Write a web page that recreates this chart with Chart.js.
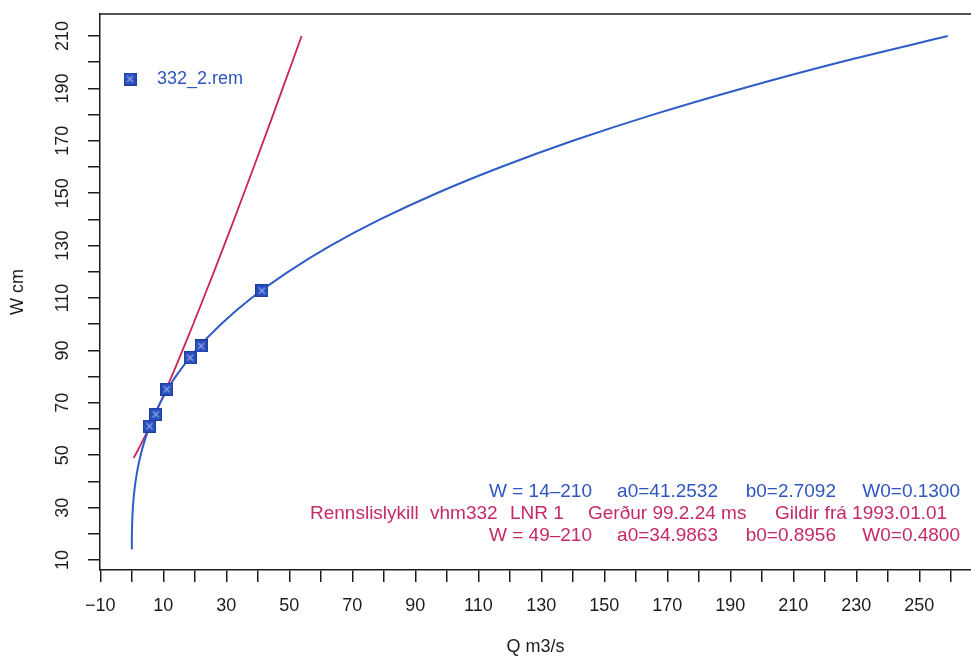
<!DOCTYPE html>
<html>
<head>
<meta charset="utf-8">
<script src="https://cdn.jsdelivr.net/npm/chart.js@4.4.1/dist/chart.umd.min.js"></script>
<style>
  html, body { margin: 0; padding: 0; background: #fff; }
  #wrap { width: 971px; height: 658px; position: relative; }
</style>
</head>
<body>
<div id="wrap"><canvas id="chart"></canvas></div>
<script>
// rating curve 332_2.rem (blue), W cm vs Q m3/s
const blueW = [14, 16, 18, 20, 25, 30, 35, 40, 45, 50, 55, 60, 65, 70, 75, 80, 90, 100, 110, 120, 130, 140, 150, 160, 170, 180, 190, 200, 210];
const blueQ = [0.0, 0.003, 0.012, 0.03, 0.13, 0.34, 0.68, 1.19, 1.88, 2.79, 3.93, 5.33, 7.02, 9.0, 11.3, 13.9, 20.3, 28.3, 38.0, 49.6, 63.1, 78.8, 96.8, 117.2, 140.0, 165.5, 193.8, 224.8, 259.0];

// older key vhm332 LNR 1 (red)
const redW = [49, 50, 52, 55, 60, 70, 80, 90, 100, 120, 140, 160, 180, 200, 210];
const redQ = [0.57, 1.05, 1.96, 3.23, 5.24, 9.02, 12.61, 16.09, 19.48, 26.07, 32.47, 38.72, 44.86, 50.9, 53.9];

// measurements
const measQ = [5.6, 7.6, 11.1, 18.5, 22.0, 41.3];
const measW = [61.1, 65.6, 75.2, 87.2, 91.7, 112.8];

const xTickLabels = [-10, 10, 30, 50, 70, 90, 110, 130, 150, 170, 190, 210, 230, 250];
const yTickLabels = [10, 30, 50, 70, 90, 110, 130, 150, 170, 190, 210];

const blueLine = ["W = 14\u2013210", "a0=41.2532", "b0=2.7092", "W0=0.1300"];
const infoLine = ["Rennslislykill", "vhm332", "LNR 1", "Ger\u00f0ur 99.2.24 ms", "Gildir fr\u00e1 1993.01.01"];
const redLine = ["W = 49\u2013210", "a0=34.9863", "b0=0.8956", "W0=0.4800"];

const BLUE = "#2f5cc6";
const RED = "#c8245c";
const TXT_BLUE = "#2f56c0";
const TXT_RED = "#c52a66";
const INK = "#1c1c1c";
const FONT = "'Liberation Sans', Arial, sans-serif";

function toXY(xs, ys) {
  return xs.map((x, i) => ({ x: x, y: ys[i] }));
}

// square marker with a cross inside
function makeMarker(size) {
  const c = document.createElement("canvas");
  c.width = size;
  c.height = size;
  const g = c.getContext("2d");
  g.fillStyle = "#2a50bd";
  g.fillRect(0, 0, size, size);
  g.strokeStyle = "#1d3f9e";
  g.lineWidth = 1;
  g.strokeRect(0.5, 0.5, size - 1, size - 1);
  g.strokeStyle = "#8ea6e2";
  g.lineWidth = 1.2;
  g.beginPath();
  g.moveTo(3.5, 3.5); g.lineTo(size - 3.5, size - 3.5);
  g.moveTo(size - 3.5, 3.5); g.lineTo(3.5, size - 3.5);
  g.stroke();
  return c;
}
const marker = makeMarker(13);

const textPlugin = {
  id: "textPlugin",
  afterDraw(chart) {
    const ctx = chart.ctx;
    const area = chart.chartArea;
    ctx.save();
    // top frame line
    ctx.strokeStyle = INK;
    ctx.lineWidth = 1.5;
    ctx.beginPath();
    ctx.moveTo(area.left, area.top);
    ctx.lineTo(area.right, area.top);
    ctx.stroke();

    ctx.font = "19px " + FONT;
    ctx.textBaseline = "middle";
    ctx.textAlign = "right";
    const rights = [592, 718, 836, 960];
    ctx.fillStyle = TXT_BLUE;
    blueLine.forEach((s, i) => ctx.fillText(s, rights[i], 491.5));
    ctx.fillStyle = TXT_RED;
    redLine.forEach((s, i) => ctx.fillText(s, rights[i], 535.5));
    ctx.textAlign = "left";
    const infoLefts = [310, 430, 510, 588, 775];
    infoLine.forEach((s, i) => ctx.fillText(s, infoLefts[i], 513.5));
    ctx.restore();
  }
};

function fmt(v) {
  return v < 0 ? "\u2212" + Math.abs(v) : String(v);
}

function noPad(scale) {
  scale.paddingTop = 0;
  scale.paddingBottom = 0;
  scale.paddingLeft = 0;
  scale.paddingRight = 0;
}

const ctx = document.getElementById("chart").getContext("2d");
new Chart(ctx, {
  type: "scatter",
  data: {
    datasets: [
      {
        label: "332_2.rem",
        data: toXY(measQ, measW),
        pointStyle: marker,
        pointRadius: 6,
        showLine: false,
        order: 0
      },
      {
        label: "curve",
        data: toXY(blueQ, blueW),
        showLine: true,
        borderColor: BLUE,
        borderWidth: 2,
        pointRadius: 0,
        tension: 0.3,
        order: 1
      },
      {
        label: "vhm332",
        data: toXY(redQ, redW),
        showLine: true,
        borderColor: RED,
        borderWidth: 1.8,
        pointRadius: 0,
        tension: 0.2,
        order: 2
      }
    ]
  },
  options: {
    responsive: true,
    maintainAspectRatio: false,
    animation: false,
    layout: { autoPadding: false, padding: { top: 14, right: 0, left: 0, bottom: 0 } },
    plugins: {
      tooltip: { enabled: false },
      legend: {
        position: "chartArea",
        align: "start",
        title: { display: true, text: "", font: { size: 10 }, padding: { top: 46, bottom: 0 } },
        labels: {
          usePointStyle: true,
          pointStyleWidth: 36,
          padding: 12,
          color: TXT_BLUE,
          font: { family: FONT, size: 18 },
          filter: (item) => item.datasetIndex === 0
        }
      }
    },
    scales: {
      x: {
        type: "linear",
        min: -10.1,
        max: 266.4,
        afterFit: (scale) => { scale.height = 88; noPad(scale); },
        border: { display: true, color: INK, width: 1.5 },
        grid: { display: true, drawOnChartArea: false, drawTicks: true, tickLength: 12, color: INK, lineWidth: 1.5 },
        ticks: {
          stepSize: 10,
          includeBounds: false,
          autoSkip: false,
          minRotation: 0,
          maxRotation: 0,
          padding: 13,
          color: INK,
          font: { family: FONT, size: 18 },
          callback: (v) => (xTickLabels.includes(v) ? fmt(v) : "")
        },
        title: {
          display: true,
          text: "Q m3/s",
          color: INK,
          font: { family: FONT, size: 18 },
          padding: { top: 0, bottom: 0 }
        }
      },
      y: {
        type: "linear",
        min: 6.2,
        max: 218.4,
        afterFit: (scale) => { scale.width = 100; noPad(scale); },
        border: { display: true, color: INK, width: 1.5 },
        grid: { display: true, drawOnChartArea: false, drawTicks: true, tickLength: 12, color: INK, lineWidth: 1.5 },
        ticks: {
          stepSize: 10,
          includeBounds: false,
          autoSkip: false,
          minRotation: 90,
          maxRotation: 90,
          crossAlign: "center",
          padding: 10,
          color: INK,
          font: { family: FONT, size: 18 },
          callback: (v) => (yTickLabels.includes(v) ? fmt(v) : "")
        },
        title: {
          display: true,
          text: "W cm",
          color: INK,
          font: { family: FONT, size: 18 },
          padding: { top: 7, bottom: 0 }
        }
      }
    }
  },
  plugins: [textPlugin]
});
</script>
</body>
</html>
